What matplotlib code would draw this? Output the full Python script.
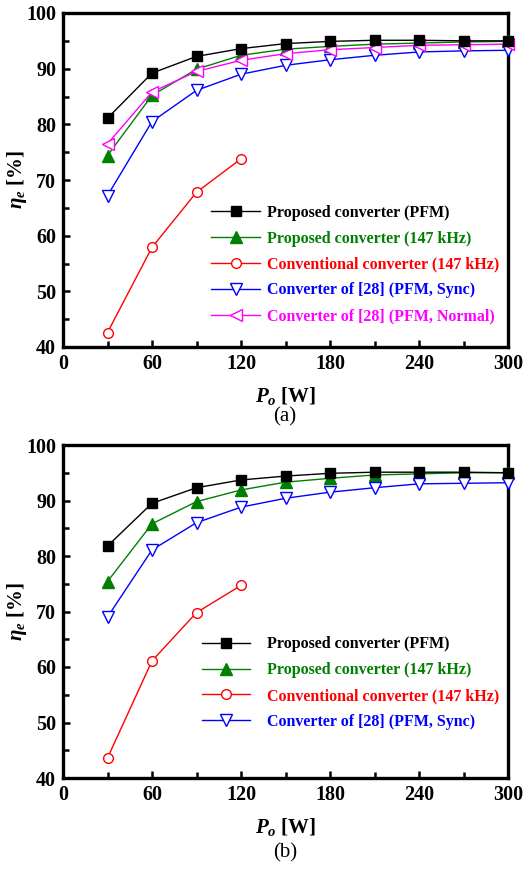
import matplotlib
matplotlib.use("Agg")
import matplotlib.pyplot as plt
from matplotlib.ticker import MultipleLocator

plt.rcParams['font.family'] = ['Liberation Serif', 'DejaVu Serif']
plt.rcParams['font.weight'] = 'bold'
plt.rcParams['mathtext.fontset'] = 'custom'
plt.rcParams['mathtext.it'] = 'Liberation Serif:italic:bold'
plt.rcParams['mathtext.rm'] = 'Liberation Serif:bold'
plt.rcParams['mathtext.bf'] = 'Liberation Serif:bold'

# Output power (W)
power = [30, 60, 90, 120, 150, 180, 210, 240, 270, 300]
power_conv = [30, 60, 90, 120]

# (a) efficiency [%]
a_pfm = [81.1, 89.2, 92.2, 93.6, 94.5, 94.9, 95.1, 95.1, 95.0, 95.0]
a_147 = [74.4, 85.2, 89.9, 92.4, 93.5, 94.0, 94.4, 94.6, 94.8, 94.9]
a_conv = [42.6, 57.9, 67.8, 73.8]
a_sync = [67.2, 80.5, 86.1, 89.0, 90.6, 91.6, 92.4, 93.0, 93.2, 93.3]
a_norm = [76.5, 85.8, 89.5, 91.5, 92.7, 93.4, 93.8, 94.2, 94.3, 94.4]

# (b) efficiency [%]
b_pfm = [81.8, 89.5, 92.3, 93.7, 94.4, 94.9, 95.1, 95.1, 95.1, 95.0]
b_147 = [75.4, 85.8, 89.8, 91.9, 93.3, 94.0, 94.6, 94.8, 95.0, 95.0]
b_conv = [43.6, 61.1, 69.8, 74.7]
b_sync = [69.0, 81.1, 86.0, 88.8, 90.4, 91.5, 92.3, 93.0, 93.1, 93.2]

labels = ['Proposed converter (PFM)', 'Proposed converter (147 kHz)',
          'Conventional converter (147 kHz)', 'Converter of [28] (PFM, Sync)',
          'Converter of [28] (PFM, Normal)']
colors = ['black', '#008000', '#ff0000', '#0000ff', '#ff00ff']

fig = plt.figure(figsize=(5.32, 8.69), dpi=100)
W, H = 532, 869


def make_axes(top_px, bottom_px):
    return fig.add_axes([63 / W, (H - bottom_px) / H, 445 / W, (bottom_px - top_px) / H])


def style(ax):
    ax.set_xlim(0, 300)
    ax.set_ylim(40, 100)
    ax.xaxis.set_major_locator(MultipleLocator(60))
    ax.xaxis.set_minor_locator(MultipleLocator(30))
    ax.yaxis.set_major_locator(MultipleLocator(10))
    ax.yaxis.set_minor_locator(MultipleLocator(5))
    ax.tick_params(which='both', direction='in', width=1.8, labelsize=14.5)
    ax.tick_params(which='major', length=5, pad=5)
    ax.tick_params(which='minor', length=4)
    for sp in ax.spines.values():
        sp.set_linewidth(2.4)
    for lab in ax.get_xticklabels() + ax.get_yticklabels():
        lab.set_fontweight('bold')
    ax.set_xlabel(r'$P_o$ [W]', fontsize=15, fontweight='bold', labelpad=8)
    ax.set_ylabel(r'$\eta_e$ [%]', fontsize=15, fontweight='bold', labelpad=-2)


def draw(ax, series, xs, anchor, hlen, hpad):
    specs = [
        dict(marker='s', ms=6.5, mfc=colors[0]),
        dict(marker='^', ms=8.5, mfc=colors[1]),
        dict(marker='o', ms=7, mfc='white'),
        dict(marker='v', ms=8.5, mfc='white'),
        dict(marker='<', ms=8.5, mfc='white'),
    ]
    for i, (ys, x) in enumerate(zip(series, xs)):
        s = specs[i]
        ax.plot(x, ys, color=colors[i], lw=1.0, marker=s['marker'], ms=s['ms'],
                mfc=s['mfc'], mec=colors[i], mew=1.0, label=labels[i], clip_on=False,
                zorder=4 if i == 0 else 3)
    leg = ax.legend(loc='upper left', bbox_to_anchor=anchor, frameon=False,
                    fontsize=11.5, handlelength=hlen, handletextpad=hpad,
                    labelspacing=0.62, borderaxespad=0)
    for txt, c in zip(leg.get_texts(), colors):
        txt.set_color(c)
        txt.set_fontweight('bold')


ax1 = make_axes(13, 347)
draw(ax1, [a_pfm, a_147, a_conv, a_sync, a_norm],
     [power, power, power_conv, power, power], (0.318, 0.445), 3.1, 0.4)
style(ax1)

ax2 = make_axes(445, 778)
draw(ax2, [b_pfm, b_147, b_conv, b_sync],
     [power, power, power_conv, power], (0.298, 0.445), 3.0, 1.05)
style(ax2)

fig.text(285 / W, 1 - 417 / H, '(a)', ha='center', va='center', fontsize=15, fontweight='normal')
fig.text(285 / W, 1 - 853 / H, '(b)', ha='center', va='center', fontsize=15, fontweight='normal')

fig.savefig('out.png', dpi=100)
